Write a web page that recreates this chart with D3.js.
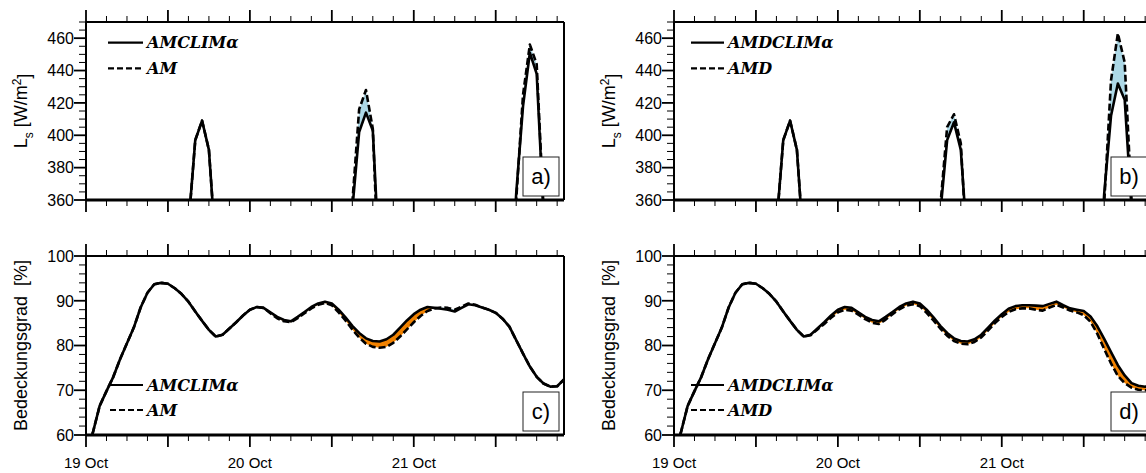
<!DOCTYPE html>
<html>
<head>
<meta charset="utf-8">
<script src="https://cdn.jsdelivr.net/npm/d3@7"></script>
<style>
  html, body { margin: 0; padding: 0; background: #fff; }
  svg { display: block; }
  text { font-family: "Liberation Sans", Arial, Helvetica, sans-serif; }
  .leg { font-family: "DejaVu Serif", "Liberation Serif", serif; font-weight: bold; font-style: italic; }
</style>
</head>
<body>
<svg id="chart" width="1146" height="473"></svg>
<script>
// ---------------- data ----------------
const dateLabels = ["19 Oct", "20 Oct", "21 Oct"];
const dateHours = [0, 24, 48];

// Ls (W/m2) – hours (since 19 Oct 00 UTC) around the three daytime peaks
const lsHours = [14, 15, 16, 17, 18, 19, 20, 38, 39, 40, 41, 42, 43, 44, 62, 63, 64, 65, 66, 67, 68];
const lsAMCLIM  = [280, 344, 397, 409, 391, 330, 250, 290, 354, 402, 414, 403, 318, 240, 290, 364, 418, 451, 438, 352, 270];
const lsAM      = [280, 344, 397, 409, 391, 330, 250, 300, 358, 416, 428, 404, 300, 240, 285, 360, 425, 456, 444, 355, 270];
const lsAMDCLIM = [280, 344, 397, 409, 391, 330, 250, 290, 352, 397, 408, 391, 330, 240, 290, 364, 412, 432, 422, 355, 270];
const lsAMD     = [280, 344, 397, 409, 391, 330, 250, 295, 356, 405, 413, 395, 320, 240, 285, 358, 434, 463, 445, 360, 270];

// cloud cover (%) – hourly, hour 0 .. 70
const ccHours = d3.range(0, 71);
const ccAMCLIM = [56, 60.5, 66.5, 69.8, 73, 77, 80.5, 84, 88.5, 91.8, 93.7, 94, 93.8, 92.8, 91.5, 89.8, 87.6, 85.5, 83.5, 82,
  82.4, 83.8, 85.2, 86.7, 88, 88.6, 88.4, 87.4, 86.4, 85.7, 85.4, 86.4, 87.5, 88.6, 89.4, 89.8, 89.4, 88, 86.3, 84.4,
  82.8, 81.6, 81, 80.9, 81.4, 82.4, 84, 85.6, 87, 88, 88.6, 88.4, 88.2, 88, 87.6, 88.4, 89.2, 89, 88.5, 88,
  87.3, 86, 84.2, 81.2, 78.2, 75.3, 73, 71.5, 70.8, 70.9, 72.4];
const ccAM = [56, 60.5, 66.5, 69.8, 73, 77, 80.5, 84, 88.5, 91.8, 93.7, 94, 93.8, 92.8, 91.5, 89.8, 87.6, 85.5, 83.5, 82,
  82.4, 83.8, 85.2, 86.7, 88, 88.6, 88.4, 87.2, 86.1, 85.4, 85.2, 86.1, 87.2, 88.3, 89.1, 89.5, 89, 87.4, 85.6, 83.6,
  81.8, 80.4, 79.7, 79.5, 79.7, 80.6, 82, 83.6, 85.2, 86.6, 87.7, 88.3, 88.5, 88.4, 88, 88.7, 89.4, 89.1, 88.5, 88,
  87.3, 86, 84.2, 81.2, 78.2, 75.3, 73, 71.5, 70.8, 70.9, 72.4];
const ccAMDCLIM = [56, 60.5, 66.5, 69.8, 73, 77, 80.5, 84, 88.5, 91.8, 93.7, 94, 93.8, 92.8, 91.5, 89.8, 87.6, 85.5, 83.5, 82,
  82.4, 83.8, 85.2, 86.7, 88, 88.6, 88.4, 87.4, 86.4, 85.7, 85.4, 86.4, 87.5, 88.6, 89.4, 89.8, 89.4, 88, 86.3, 84.4,
  82.8, 81.6, 81, 80.9, 81.4, 82.4, 84, 85.6, 87, 88.2, 88.8, 89, 89, 88.9, 88.8, 89.3, 89.8, 89, 88.3, 88,
  87.7, 86.5, 84.3, 81.5, 78.5, 75.6, 73.3, 71.6, 71, 70.8, 70.9];
const ccAMD = [56, 60.5, 66.5, 69.8, 73, 77, 80.5, 84, 88.5, 91.8, 93.7, 94, 93.8, 92.8, 91.5, 89.8, 87.6, 85.5, 83.5, 82,
  82.3, 83.6, 84.8, 86.2, 87.4, 88, 87.8, 86.9, 85.9, 85.1, 84.8, 85.8, 87, 88.1, 88.9, 89.2, 88.8, 87.3, 85.6, 83.8,
  82.2, 81, 80.4, 80.3, 80.8, 81.8, 83.4, 85, 86.4, 87.5, 88.1, 88.3, 88.3, 88, 87.8, 88.5, 89.1, 88.5, 87.8, 87.4,
  86.8, 85.3, 82.6, 79.2, 76, 73.2, 71.6, 70.6, 70.1, 70, 70.1];

const lsTicks = [360, 380, 400, 420, 440, 460];
const ccTicks = [60, 70, 80, 90, 100];

// ---------------- drawing ----------------
const svg = d3.select("#chart");
svg.append("rect").attr("width", 1146).attr("height", 473).attr("fill", "#fff");
const defs = svg.append("defs");

const W = 478;

function drawPanel(cfg) {
  const {id, x0, y0, h, hours, solid, dashed, yDomain, yTicks, yMinorStep, names, letter, legendPos, ylabel, showDates} = cfg;
  const g = svg.append("g").attr("transform", `translate(${x0},${y0})`);
  const x = d3.scaleLinear().domain([0, 70]).range([0, W]);
  const y = d3.scaleLinear().domain(yDomain).range([h, 0]);

  const sData = hours.map((hh, i) => [hh, solid[i]]);
  const dData = hours.map((hh, i) => [hh, dashed[i]]);

  defs.append("clipPath").attr("id", `plot-${id}`).append("rect").attr("width", W).attr("height", h);
  defs.append("clipPath").attr("id", `aboveS-${id}`).append("path")
    .attr("d", d3.area().x(d => x(d[0])).y0(-2000).y1(d => y(d[1]))(sData));
  defs.append("clipPath").attr("id", `aboveD-${id}`).append("path")
    .attr("d", d3.area().x(d => x(d[0])).y0(-2000).y1(d => y(d[1]))(dData));

  const plot = g.append("g").attr("clip-path", `url(#plot-${id})`);
  plot.append("g").attr("clip-path", `url(#aboveS-${id})`).append("path")
    .attr("d", d3.area().x(d => x(d[0])).y0(3000).y1(d => y(d[1]))(dData))
    .attr("fill", "#add8e6");
  plot.append("g").attr("clip-path", `url(#aboveD-${id})`).append("path")
    .attr("d", d3.area().x(d => x(d[0])).y0(3000).y1(d => y(d[1]))(sData))
    .attr("fill", "#f28200");

  const line = d3.line().x(d => x(d[0])).y(d => y(d[1]));
  plot.append("path").attr("d", line(sData)).attr("fill", "none").attr("stroke", "#000")
    .attr("stroke-width", 2.6).attr("stroke-linejoin", "round");
  plot.append("path").attr("d", line(dData)).attr("fill", "none").attr("stroke", "#000")
    .attr("stroke-width", 2.6).attr("stroke-dasharray", "7 3").attr("stroke-linejoin", "round");

  const xMajor = d3.range(0, 71, 12);
  const xMinor = d3.range(0, 71, 3).filter(v => v % 12 !== 0);
  const tg = g.append("g").attr("stroke", "#000");
  xMajor.forEach(v => {
    tg.append("line").attr("x1", x(v)).attr("x2", x(v)).attr("y1", 0).attr("y2", -12).attr("stroke-width", 1.8);
    tg.append("line").attr("x1", x(v)).attr("x2", x(v)).attr("y1", h).attr("y2", h + 12).attr("stroke-width", 1.8);
  });
  xMinor.forEach(v => {
    tg.append("line").attr("x1", x(v)).attr("x2", x(v)).attr("y1", 0).attr("y2", -6).attr("stroke-width", 1);
    tg.append("line").attr("x1", x(v)).attr("x2", x(v)).attr("y1", h).attr("y2", h + 6).attr("stroke-width", 1);
  });
  yTicks.forEach(v => {
    tg.append("line").attr("x1", 0).attr("x2", -12).attr("y1", y(v)).attr("y2", y(v)).attr("stroke-width", 1.8);
  });
  d3.range(yDomain[0], yDomain[1] + 0.001, yMinorStep).filter(v => !yTicks.includes(v)).forEach(v => {
    tg.append("line").attr("x1", 0).attr("x2", -7).attr("y1", y(v)).attr("y2", y(v)).attr("stroke-width", 1);
  });
  g.selectAll(".ytl").data(yTicks).enter().append("text")
    .attr("x", -12).attr("y", d => y(d)).attr("dy", "0.36em").attr("text-anchor", "end")
    .attr("font-size", 16).text(d => d);

  if (showDates) {
    g.selectAll(".xtl").data(dateHours).enter().append("text")
      .attr("x", d => x(d)).attr("y", h + 33).attr("text-anchor", "middle")
      .attr("font-size", 15).text((d, i) => dateLabels[i]);
  }

  g.append("line").attr("x1", 0).attr("x2", W).attr("y1", 0).attr("y2", 0).attr("stroke", "#000").attr("stroke-width", 2);
  g.append("line").attr("x1", 0).attr("x2", W).attr("y1", h).attr("y2", h).attr("stroke", "#000").attr("stroke-width", 3);
  g.append("line").attr("x1", 0).attr("x2", 0).attr("y1", 0).attr("y2", h).attr("stroke", "#000").attr("stroke-width", 2);
  g.append("line").attr("x1", W).attr("x2", W).attr("y1", 0).attr("y2", h).attr("stroke", "#000").attr("stroke-width", 2);

  const lp = legendPos;
  [0, 1].forEach(i => {
    const ly = lp.y + i * lp.dy;
    g.append("line").attr("x1", lp.x1).attr("x2", lp.x2).attr("y1", ly).attr("y2", ly)
      .attr("stroke", "#000").attr("stroke-width", 2.2)
      .attr("stroke-dasharray", i === 1 ? "6 3" : null);
    g.append("text").attr("class", "leg").attr("x", lp.tx).attr("y", ly).attr("dy", "0.35em")
      .attr("font-size", 16).text(names[i]);
  });

  const bw = 36, bh = 39;
  g.append("rect").attr("x", W - 5 - bw).attr("y", h - 4 - bh).attr("width", bw).attr("height", bh)
    .attr("fill", "#fff").attr("stroke", "#222").attr("stroke-width", 1);
  g.append("text").attr("x", W - 5 - bw / 2).attr("y", h - 4 - bh / 2).attr("dy", "0.36em")
    .attr("text-anchor", "middle").attr("font-size", 22).text(letter);

  const yl = svg.append("text").attr("transform", `translate(${x0 - 65},${y0 + h / 2}) rotate(-90)`)
    .attr("text-anchor", "middle").attr("font-size", 18).attr("dy", "0.35em");
  if (ylabel === "ls") {
    yl.append("tspan").text("L");
    yl.append("tspan").attr("font-size", 12).attr("dy", "0.45em").text("s");
    yl.append("tspan").attr("dy", "-0.3em").text(" [W/m");
    yl.append("tspan").attr("font-size", 12).attr("dy", "-0.5em").text("2");
    yl.append("tspan").attr("dy", "0.5em").text("]");
  } else {
    yl.attr("xml:space", "preserve").style("white-space", "pre").text("Bedeckungsgrad  [%]");
  }
}

drawPanel({id: "a", x0: 86, y0: 22, h: 178, hours: lsHours, solid: lsAMCLIM, dashed: lsAM,
  yDomain: [360, 470], yTicks: lsTicks, yMinorStep: 5, names: ["AMCLIMα", "AM"], letter: "a)",
  legendPos: {x1: 22, x2: 57, tx: 61, y: 20.7, dy: 25.6}, ylabel: "ls", showDates: false});
drawPanel({id: "b", x0: 674, y0: 22, h: 178, hours: lsHours, solid: lsAMDCLIM, dashed: lsAMD,
  yDomain: [360, 470], yTicks: lsTicks, yMinorStep: 5, names: ["AMDCLIMα", "AMD"], letter: "b)",
  legendPos: {x1: 17, x2: 50, tx: 54, y: 20.7, dy: 25.6}, ylabel: "ls", showDates: false});
drawPanel({id: "c", x0: 86, y0: 256, h: 179, hours: ccHours, solid: ccAMCLIM, dashed: ccAM,
  yDomain: [60, 100], yTicks: ccTicks, yMinorStep: 2, names: ["AMCLIMα", "AM"], letter: "c)",
  legendPos: {x1: 24, x2: 57, tx: 61, y: 129, dy: 25}, ylabel: "cc", showDates: true});
drawPanel({id: "d", x0: 674, y0: 256, h: 179, hours: ccHours, solid: ccAMDCLIM, dashed: ccAMD,
  yDomain: [60, 100], yTicks: ccTicks, yMinorStep: 2, names: ["AMDCLIMα", "AMD"], letter: "d)",
  legendPos: {x1: 17, x2: 50, tx: 54, y: 129, dy: 25}, ylabel: "cc", showDates: true});
</script>
</body>
</html>
